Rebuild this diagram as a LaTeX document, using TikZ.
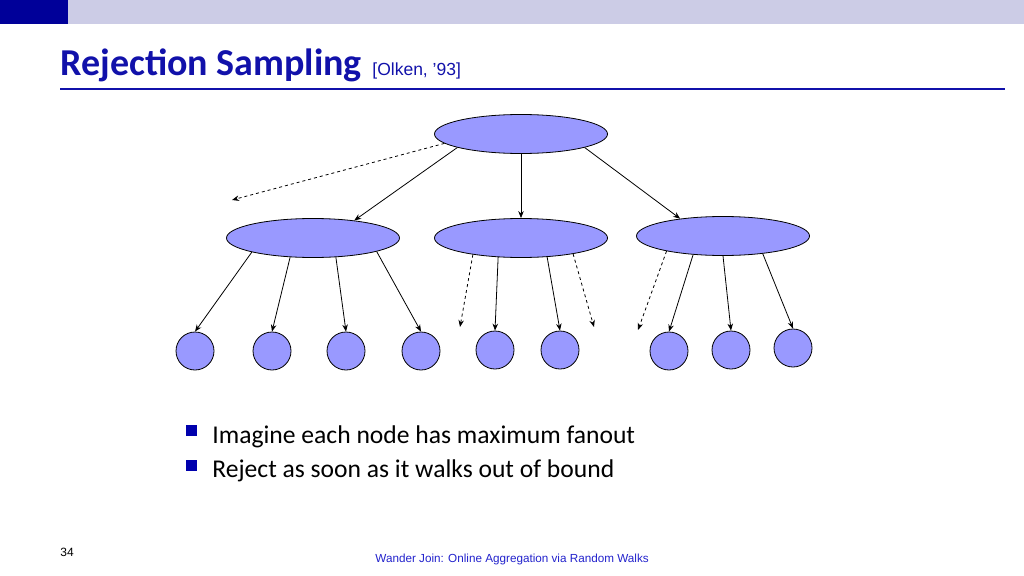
\documentclass[tikz,border=0pt]{standalone}
\usepackage{fontspec}
\setmainfont{Carlito}
\newfontfamily\arialfont{Liberation Sans}
\usepackage{xcolor}
\usepackage{tikz}
\usetikzlibrary{arrows.meta,positioning,shapes.geometric}
\definecolor{bardark}{RGB}{0,0,153}
\definecolor{barlight}{RGB}{204,204,230}
\definecolor{titleblue}{RGB}{17,17,170}
\definecolor{nodeblue}{RGB}{153,153,255}
\definecolor{footblue}{RGB}{34,34,204}

\begin{document}
\begin{tikzpicture}[x=1pt,y=-1pt,>={Stealth[length=7pt,width=5.5pt]},line width=0.8pt]
\tikzstyle{every node} = [inner sep=0pt]
\tikzstyle{oval} = [ellipse, draw, fill=nodeblue, minimum width=173pt, minimum height=39pt]
\tikzstyle{leaf} = [circle, draw, fill=nodeblue, minimum size=38pt]
\tikzstyle{txt} = [anchor=base west]
\tikzstyle{bullet} = [rectangle, fill=bardark!80!blue, minimum size=11pt]
\useasboundingbox (0,0) rectangle (1024,575);
\fill[barlight] (68,0) rectangle (1024,24);
\fill[bardark] (0,0) rectangle (68,24);
\node[txt, text=titleblue, font=\fontsize{38}{38}\selectfont\bfseries] (title) at (60,76) {Rejection Sampling};
\node[txt, text=titleblue, font=\arialfont\fontsize{17.5}{17.5}\selectfont] (cite) at (372,76) {[Olken, ’93]};
\draw[titleblue, line width=1.2pt] (60,89) -- (1005,89);
% tree
\node[oval] (r) at (521,134) {};
\node[oval] (m1) at (313,238) {};
\node[oval] (m2) at (521,238) {};
\node[oval] (m3) at (723,236) {};
\node[leaf] (l1) at (195,351) {};
\node[leaf] (l2) at (272,351) {};
\node[leaf] (l3) at (346,351) {};
\node[leaf] (l4) at (421,351) {};
\node[leaf] (l5) at (495,350) {};
\node[leaf] (l6) at (560,350) {};
\node[leaf] (l7) at (669,351) {};
\node[leaf] (l8) at (731,350) {};
\node[leaf] (l9) at (793,348) {};
\coordinate (d1) at (232,200);
\coordinate (d2) at (460,327);
\coordinate (d3) at (594,327);
\coordinate (d4) at (638,330);
\foreach \from/\to in {r.192/m1.23, r.south/m2.north, r.348/m3.158, m1.193/l1.north, m1.220/l2.north, m1.320/l3.north, m1.348/l4.north, m2.220/l5.north, m2.324/l6.north, m3.212/l7.north, m3.south/l8.north, m3.336/l9.north}
\draw [->] (\from) -- (\to);
\foreach \from/\to in {r.187/d1, m2.199/d2, m2.343/d3, m3.195/d4}
\draw [->, dashed] (\from) -- (\to);
% bullets
\node[bullet] (b1) at (191.5,430) {};
\node[bullet] (b2) at (191.5,465) {};
\node[txt, font=\fontsize{25.6}{25.6}\selectfont] (t1) at (212,443) {Imagine each node has maximum fanout};
\node[txt, font=\fontsize{25.6}{25.6}\selectfont] (t2) at (212,477) {Reject as soon as it walks out of bound};
% footer
\node[txt, font=\arialfont\fontsize{12}{12}\selectfont] (num) at (60,556) {34};
\node[txt, text=footblue, font=\arialfont\fontsize{11.7}{11.7}\selectfont] (foot) at (375,562) {Wander Join: Online Aggregation via Random Walks};
\end{tikzpicture}
\end{document}
